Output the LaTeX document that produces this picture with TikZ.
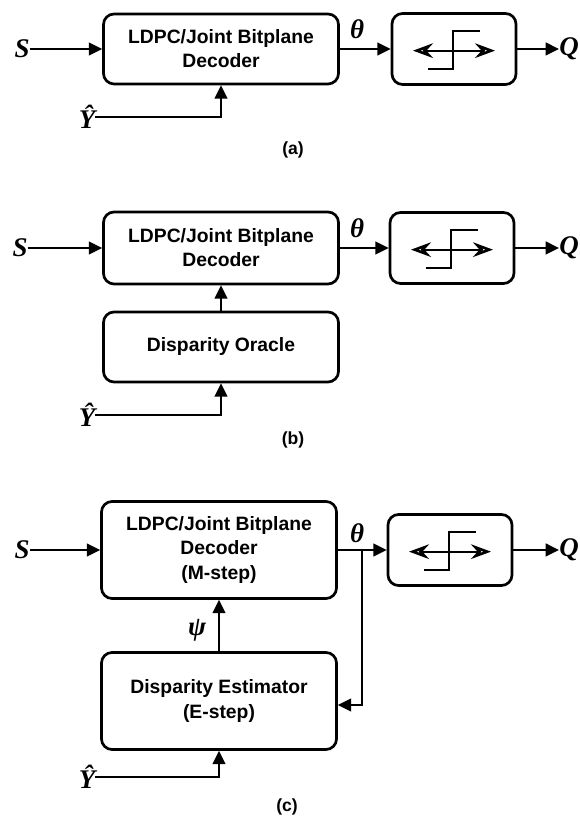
\documentclass[tikz,border=0pt]{standalone}
\usepackage{fontspec}
\setmainfont{Liberation Sans}
\newfontfamily\symfont{Liberation Serif}
\usetikzlibrary{arrows.meta,calc}
\tikzset{
  block/.style={draw=black, line width=2.3pt, rounded corners=9pt,
                minimum width=70.5mm, align=center, inner sep=3pt,
                font=\fontsize{16.5}{20.5}\selectfont\bfseries},
  quant/.style={draw=black, line width=2.3pt, rounded corners=9pt,
                minimum width=37.2mm, minimum height=21.3mm},
  sym/.style={inner sep=0pt, font=\fontsize{23}{25}\selectfont\symfont\bfseries\itshape},
  panellab/.style={font=\fontsize{15}{17}\selectfont\bfseries},
  flow/.style={-{Triangle[length=4mm,width=3.8mm]}, line width=1.9pt},
  qline/.style={line width=1.9pt},
}
% quantiser glyph drawn inside a node
\newcommand{\stepsym}[1]{%
  \draw[qline, {Stealth[open,length=6mm,width=4.4mm,inset=2mm,line width=2.2pt]}-{Stealth[open,length=6mm,width=4.4mm,inset=2mm,line width=2.2pt]}]
    ($(#1)+(-1.23,-0.05)$) -- ($(#1)+(1.23,-0.05)$);
  \draw[qline] ($(#1)+(-0.78,-0.6)$) -- ($(#1)+(-0.03,-0.6)$)
    -- ($(#1)+(-0.03,0.54)$) -- ($(#1)+(0.78,0.54)$);
}

\begin{document}
\begin{tikzpicture}[x=1cm,y=1cm]
  \path[use as bounding box] (0,0) rectangle (17.37,24.6);

  % (a) decoder only
  \node[block, minimum height=21mm] (deca) at (6.63,23.13)
    {LDPC/Joint Bitplane\\Decoder};
  \node[quant] (quanta) at (13.62,23.13) {};
  \stepsym{quanta}
  \node[sym] (sa) at (0.66,23.13) {S};
  \node[sym] (qa) at (17.07,23.13) {Q};
  \node[sym] (ya) at (2.61,21.09) {\^{Y}};
  \node[sym] (tha) at (10.71,23.73) {θ};
  \draw[flow] (sa) -- (deca);
  \draw[flow] (deca) -- (quanta);
  \draw[flow] (quanta) -- (qa);
  \draw[flow] (ya.east) -- (ya.east -| deca.south) -- (deca.south);
  \node[panellab] (laba) at (8.79,20.1) {(a)};

  % (b) with disparity oracle
  \node[block, minimum height=21.6mm] (decb) at (6.63,17.16)
    {LDPC/Joint Bitplane\\Decoder};
  \node[block, minimum height=21mm] (oracle) at (6.63,14.19)
    {Disparity Oracle};
  \node[quant] (quantb) at (13.56,17.16) {};
  \stepsym{quantb}
  \node[sym] (sb) at (0.6,17.16) {S};
  \node[sym] (qb) at (17.07,17.16) {Q};
  \node[sym] (yb) at (2.61,12.15) {\^{Y}};
  \node[sym] (thb) at (10.71,17.76) {θ};
  \draw[flow] (sb) -- (decb);
  \draw[flow] (decb) -- (quantb);
  \draw[flow] (quantb) -- (qb);
  \draw[flow] (oracle) -- (decb);
  \draw[flow] (yb.east) -- (yb.east -| oracle.south) -- (oracle.south);
  \node[panellab] (labb) at (8.79,11.4) {(b)};

  % (c) EM loop
  \node[block, minimum height=29.1mm] (decc) at (6.57,8.1)
    {LDPC/Joint Bitplane\\Decoder\\(M-step)};
  \node[block, minimum height=29.1mm] (est) at (6.57,3.57)
    {Disparity Estimator\\(E-step)};
  \node[quant] (quantc) at (13.5,8.1) {};
  \stepsym{quantc}
  \node[sym] (sc) at (0.66,8.1) {S};
  \node[sym] (qc) at (17.07,8.1) {Q};
  \node[sym] (yc) at (2.61,1.29) {\^{Y}};
  \node[sym] (thc) at (10.71,8.61) {θ};
  \node[sym] (psi) at (5.91,5.7) {ψ};
  \coordinate (fb) at (10.86,8.1);
  \draw[flow] (sc) -- (decc);
  \draw[flow] (decc) -- (quantc);
  \draw[flow] (quantc) -- (qc);
  \draw[flow] (est) -- (decc);
  \draw[flow] (fb) |- ([yshift=-1.2mm]est.east);
  \draw[flow] (yc.east) -- (yc.east -| est.south) -- (est.south);
  \node[panellab] (labc) at (8.61,0.39) {(c)};
\end{tikzpicture}
\end{document}
